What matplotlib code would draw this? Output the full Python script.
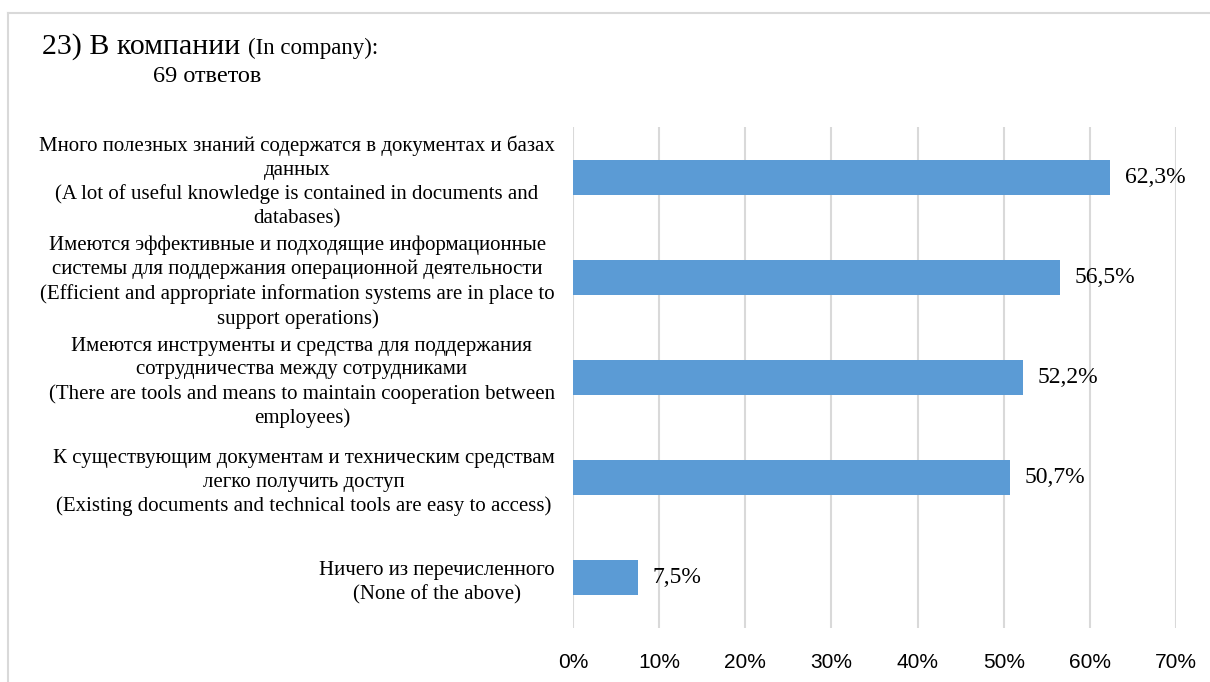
import matplotlib.pyplot as plt
from matplotlib.lines import Line2D

# survey answers, top to bottom
categories = [
    "Много полезных знаний содержатся в документах и базах\nданных\n(A lot of useful knowledge is contained in documents and\ndatabases)",
    "Имеются эффективные и подходящие информационные\nсистемы для поддержания операционной деятельности\n(Efficient and appropriate information systems are in place to\nsupport operations)",
    "Имеются инструменты и средства для поддержания\nсотрудничества между сотрудниками\n(There are tools and means to maintain cooperation between\nemployees)",
    "К существующим документам и техническим средствам\nлегко получить доступ\n(Existing documents and technical tools are easy to access)",
    "Ничего из перечисленного\n(None of the above)",
]
shares = [62.3, 56.5, 52.2, 50.7, 7.5]
xticks = [0, 10, 20, 30, 40, 50, 60, 70]

serif = "Liberation Serif"
sans = "Liberation Sans"
bar_color = "#5B9BD5"
grid_color = "#D9D9D9"

fig = plt.figure(figsize=(12.1, 6.82), dpi=100)
W, H = 1210, 682
ax = fig.add_axes([573 / W, 1 - 628 / H, 603 / W, (628 - 127) / H])

ypos = list(range(len(categories)))
ax.barh(ypos, shares, height=0.35, color=bar_color, zorder=3)
ax.set_ylim(len(categories) - 0.5, -0.5)
ax.set_xlim(0, 70)

for y, v in zip(ypos, shares):
    ax.annotate(f"{v:.1f}%".replace(".", ","), (v, y), xytext=(11, 0),
                textcoords="offset points", va="center", ha="left",
                fontsize=17, family=serif, color="#000000")

ax.set_xticks(xticks)
ax.set_xticklabels([f"{t}%" for t in xticks], fontsize=15, family=sans)
ax.set_yticks(ypos)
ax.set_yticklabels(categories, fontsize=15, family=serif)
for lbl in ax.get_yticklabels():
    lbl.set_multialignment("center")
    lbl.set_linespacing(1.32)
ax.tick_params(axis="x", length=0, pad=18)
ax.tick_params(axis="y", length=0, pad=13)
ax.grid(axis="x", color=grid_color, linewidth=1.5, zorder=0)
for s in ax.spines.values():
    s.set_visible(False)

# title
fig.text(42 / W, 1 - 54 / H, "23) В компании", fontsize=21.5, family=serif,
         ha="left", va="baseline")
fig.text(248 / W, 1 - 54 / H, "(In company):", fontsize=16.5, family=serif,
         ha="left", va="baseline")
fig.text(207 / W, 1 - 82 / H, "69 ответов", fontsize=17.5, family=serif,
         ha="center", va="baseline")

# frame lines on the left and top
fig.add_artist(Line2D([8 / W, 8 / W], [0, 1 - 13 / H], color=grid_color,
                      linewidth=1.5, transform=fig.transFigure))
fig.add_artist(Line2D([8 / W, 1], [1 - 13 / H, 1 - 13 / H], color=grid_color,
                      linewidth=1.5, transform=fig.transFigure))

fig.savefig("out.png", dpi=100, facecolor="white")
